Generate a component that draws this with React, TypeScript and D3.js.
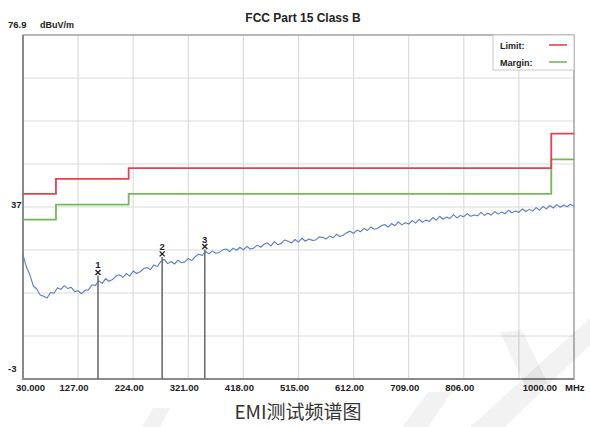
import React, { useRef, useEffect } from "react";
import * as d3 from "d3";

// fonts
const narrow = "'Liberation Sans Narrow', 'Liberation Sans', Arial, sans-serif";
const titleFont = "'Liberation Sans', Arial, sans-serif";
const cjkFont = "'Noto Sans CJK SC', 'Noto Sans', sans-serif";

// colours
const limitColor = "#e4424d";
const marginColor = "#74b85a";
const traceColor = "#5b7dc2";
const gridColor = "#dcdcdc";
const axisColor = "#8a8a8a";

// sweep: 30 MHz -> 1000 MHz, evenly stepped
const fStart = 30;
const fStop = 1000;
const yMin = -3;
const yMax = 76.9;

const levels = [
  25.8, 23.0, 21.2, 18.6, 17.9, 16.5, 16.2, 15.8, 17.1, 16.9,
  18.2, 17.8, 18.7, 18.0, 18.3, 17.3, 17.5, 16.8, 17.6, 17.7,
  18.9, 18.7, 19.8, 19.2, 20.3, 19.7, 20.1, 20.9, 21.2, 20.6,
  21.5, 20.9, 22.1, 21.5, 21.9, 22.6, 22.9, 22.4, 23.5, 23.1,
  24.3, 24.8, 23.8, 24.3, 23.7, 24.6, 24.0, 24.2, 25.0, 24.5,
  25.4, 26.0, 25.7, 26.6, 26.1, 26.7, 26.2, 26.4, 27.0, 27.2,
  26.6, 27.4, 26.9, 27.6, 27.0, 27.8, 27.2, 27.4, 28.1, 27.6,
  28.3, 28.6, 27.9, 28.9, 28.2, 28.5, 29.3, 29.0, 28.6, 29.4,
  28.8, 29.7, 29.0, 29.5, 29.2, 29.3, 30.0, 29.9, 29.5, 30.2,
  29.8, 30.6, 30.1, 30.4, 31.0, 31.3, 30.8, 31.6, 31.2, 32.0,
  31.5, 32.3, 31.8, 32.0, 32.6, 32.9, 32.3, 33.1, 32.6, 33.5,
  32.8, 33.3, 33.0, 33.8, 33.2, 34.1, 33.4, 33.9, 33.6, 34.5,
  33.9, 34.8, 34.1, 34.6, 34.3, 35.2, 34.4, 35.0, 34.7, 35.4,
  34.8, 35.1, 34.9, 35.7, 35.0, 35.5, 35.1, 35.9, 35.3, 35.8,
  35.4, 36.2, 35.6, 36.0, 35.7, 36.5, 35.9, 36.4, 36.0, 36.8,
  36.2, 37.1, 36.5, 37.3, 36.7, 37.5, 36.9, 37.4, 37.0, 37.6,
  37.1
];

// FCC Part 15 Class B limit (step points: start freq, level)
const limitSteps = [
  { f: 30, v: 40 },
  { f: 88, v: 43.5 },
  { f: 216, v: 46 },
  { f: 960, v: 54 },
  { f: 1000, v: 54 }
];
const marginSteps = [
  { f: 30, v: 34 },
  { f: 88, v: 37.5 },
  { f: 216, v: 40 },
  { f: 960, v: 48 },
  { f: 1000, v: 48 }
];

const markers = [
  { id: "1", f: 162, v: 20.6 },
  { id: "2", f: 275, v: 24.9 },
  { id: "3", f: 350, v: 26.6 }
];

const xTickLabels = ["30.000", "127.00", "224.00", "321.00", "418.00", "515.00", "612.00", "709.00", "806.00", "", "1000.00"];

export default function App() {
  const ref = useRef<SVGSVGElement>(null);

  useEffect(() => {
    const width = 590;
    const height = 427;
    const plot = { left: 23, right: 574, top: 35, bottom: 379 };

    const svg = d3.select(ref.current);
    svg.selectAll("*").remove();
    svg.attr("width", width).attr("height", height).style("background", "#fff");

    const x = d3.scaleLinear().domain([fStart, fStop]).range([plot.left, plot.right]);
    const y = d3.scaleLinear().domain([yMin, yMax]).range([plot.bottom, plot.top]);

    // title
    svg.append("text")
      .attr("x", 303).attr("y", 22)
      .attr("text-anchor", "middle")
      .attr("font-family", titleFont)
      .attr("font-weight", "bold")
      .attr("font-size", 12)
      .attr("fill", "#222")
      .text("FCC Part 15 Class B");

    // grid
    const xGrid = d3.range(0, 11).map(i => fStart + i * (fStop - fStart) / 10);
    const yGrid = d3.range(0, 9).map(i => yMin + i * (yMax - yMin) / 8);
    const g = svg.append("g");
    g.selectAll("line.vg").data(xGrid.slice(1, -1)).join("line")
      .attr("x1", d => x(d)).attr("x2", d => x(d))
      .attr("y1", plot.top).attr("y2", plot.bottom)
      .attr("stroke", gridColor).attr("stroke-width", 1.2);
    g.selectAll("line.hg").data(yGrid.slice(1, -1)).join("line")
      .attr("x1", plot.left).attr("x2", plot.right)
      .attr("y1", d => y(d)).attr("y2", d => y(d))
      .attr("stroke", gridColor).attr("stroke-width", 1.2);

    // border
    g.append("rect")
      .attr("x", plot.left).attr("y", plot.top)
      .attr("width", plot.right - plot.left).attr("height", plot.bottom - plot.top)
      .attr("fill", "none").attr("stroke", "#a0a0a0").attr("stroke-width", 1.5);
    g.append("path")
      .attr("d", `M${plot.left},${plot.top}V${plot.bottom}H${plot.right}`)
      .attr("fill", "none").attr("stroke", axisColor).attr("stroke-width", 2);

    // y labels
    const yLab = [
      { t: "76.9", v: yMax, dy: -7, x: 8 },
      { t: "37", v: 37, dy: 1, x: 11 },
      { t: "-3", v: yMin, dy: -7, x: 8 }
    ];
    svg.selectAll("text.ylab").data(yLab).join("text")
      .attr("x", d => d.x)
      .attr("y", d => y(d.v) + d.dy)
      .attr("font-family", narrow).attr("font-weight", "bold")
      .attr("font-size", 9.5).attr("fill", "#222")
      .text(d => d.t);
    svg.append("text")
      .attr("x", 40).attr("y", 28)
      .attr("font-family", narrow).attr("font-weight", "bold")
      .attr("font-size", 9).attr("fill", "#222")
      .text("dBuV/m");

    // x labels
    svg.selectAll("text.xlab").data(xGrid.map((f, i) => ({ f, t: xTickLabels[i], i }))).join("text")
      .attr("x", d => d.i === 0 ? x(d.f) - 7 : d.i === 10 ? x(d.f) - 17 : x(d.f) - 4)
      .attr("y", 391)
      .attr("text-anchor", d => d.i === 0 ? "start" : d.i === 10 ? "end" : "middle")
      .attr("font-family", narrow).attr("font-weight", "bold")
      .attr("font-size", 9.5).attr("fill", "#222")
      .text(d => d.t);
    svg.append("text")
      .attr("x", x(fStop) - 9).attr("y", 391)
      .attr("font-family", narrow).attr("font-weight", "bold")
      .attr("font-size", 9.5).attr("fill", "#222")
      .text("MHz");

    // limit + margin step lines
    const stepLine = d3.line<{ f: number; v: number }>()
      .x(d => x(d.f)).y(d => y(d.v)).curve(d3.curveStepAfter);
    svg.append("path").datum(marginSteps)
      .attr("d", stepLine).attr("fill", "none")
      .attr("stroke", marginColor).attr("stroke-width", 1.8);
    svg.append("path").datum(limitSteps)
      .attr("d", stepLine).attr("fill", "none")
      .attr("stroke", limitColor).attr("stroke-width", 1.8);

    // trace
    const step = (fStop - fStart) / (levels.length - 1);
    const trace = d3.line<number>()
      .x((d, i) => x(fStart + i * step)).y(d => y(d));
    svg.append("path").datum(levels)
      .attr("d", trace).attr("fill", "none")
      .attr("stroke", traceColor).attr("stroke-width", 1.1)
      .attr("stroke-linejoin", "round");

    // markers
    const mk = svg.append("g");
    mk.selectAll("line").data(markers).join("line")
      .attr("x1", d => x(d.f)).attr("x2", d => x(d.f))
      .attr("y1", d => y(d.v) - 2).attr("y2", plot.bottom)
      .attr("stroke", "#6e6e6e").attr("stroke-width", 1.6);
    // small cross drawn as two strokes
    mk.selectAll("path.mx").data(markers).join("path")
      .attr("d", d => {
        const cx = x(d.f), cy = y(d.v) - 5;
        return `M${cx - 2.5},${cy - 2.5}L${cx + 2.5},${cy + 2.5}M${cx + 2.5},${cy - 2.5}L${cx - 2.5},${cy + 2.5}`;
      })
      .attr("stroke", "#222").attr("stroke-width", 1.4).attr("fill", "none");
    mk.selectAll("text.mn").data(markers).join("text")
      .attr("x", d => x(d.f)).attr("y", d => y(d.v) - 9)
      .attr("text-anchor", "middle")
      .attr("font-family", narrow).attr("font-weight", "bold")
      .attr("font-size", 9.5).attr("fill", "#222")
      .text(d => d.id);

    // legend
    const lg = svg.append("g").attr("transform", `translate(493,${plot.top})`);
    lg.append("rect")
      .attr("width", plot.right - 493).attr("height", 35)
      .attr("fill", "#fff").attr("stroke", "#c8c8c8").attr("stroke-width", 1);
    const legend = [
      { t: "Limit:", c: limitColor, ly: 10 },
      { t: "Margin:", c: marginColor, ly: 27 }
    ];
    lg.selectAll("text").data(legend).join("text")
      .attr("x", 7).attr("y", d => d.ly + 4)
      .attr("font-family", narrow).attr("font-weight", "bold")
      .attr("font-size", 9).attr("fill", "#222")
      .text(d => d.t);
    lg.selectAll("line").data(legend).join("line")
      .attr("x1", 56).attr("x2", 74)
      .attr("y1", d => d.ly).attr("y2", d => d.ly)
      .attr("stroke", d => d.c).attr("stroke-width", 1.6);

    // caption
    svg.append("text")
      .attr("x", 298).attr("y", 419)
      .attr("text-anchor", "middle")
      .attr("font-family", cjkFont)
      .attr("font-size", 19).attr("fill", "#333")
      .text("EMI测试频谱图");

    // faint watermark strokes
    const wm = [
      "M402,427 L428,427 L452,392 L428,392 Z",
      "M470,427 L505,427 L590,345 L590,318 Z",
      "M500,332 L522,330 L548,384 L526,388 Z",
      "M142,427 L160,427 L170,408 L153,408 Z"
    ];
    svg.selectAll("path.wm").data(wm).join("path")
      .attr("d", d => d).attr("fill", "#000").attr("opacity", 0.05);
  }, []);

  return (
    <svg ref={ref} width={590} height={427} style={{ position: "absolute", left: 0, top: 0 }} />
  );
}
